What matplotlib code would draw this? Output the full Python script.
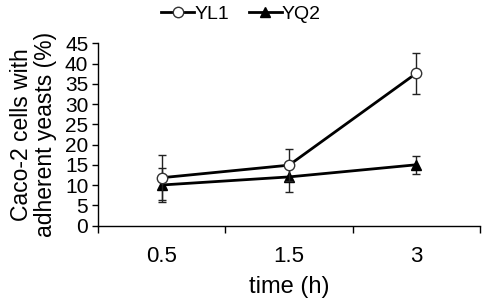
import matplotlib
matplotlib.use("Agg")
import matplotlib.pyplot as plt
from matplotlib.lines import Line2D
import numpy as np

plt.rcParams['font.family'] = ['Liberation Sans', 'DejaVu Sans']

categories = ["0.5", "1.5", "3"]
yl1 = [11.8, 14.9, 37.6]
yl1_err = [5.6, 4.0, 5.1]
yq2 = [10.0, 12.0, 15.0]
yq2_err = [4.3, 3.7, 2.2]

fig = plt.figure(figsize=(4.82, 2.99), dpi=100)
ax = fig.add_axes([98/482, 1-225.5/299, 382/482, (225.5-43.3)/299])

x = np.arange(len(categories)) + 0.5
ax.errorbar(x, yl1, yerr=yl1_err, color='black', lw=2.0, marker='o', ms=7.5,
            mfc='white', mec='#333333', mew=1.0, capsize=3, elinewidth=1.0,
            ecolor='#222222', capthick=1.0, zorder=3)
ax.errorbar(x, yq2, yerr=yq2_err, color='black', lw=2.0, marker='^', ms=7.5,
            mfc='black', mec='black', capsize=3, elinewidth=1.0,
            ecolor='#222222', capthick=1.0, zorder=2)

ax.set_xlim(0, 3)
ax.set_ylim(0, 45)
ax.set_yticks(np.arange(0, 46, 5))
ax.set_xticks([0, 1, 2, 3])
ax.set_xticklabels([])
ax.set_xticks(x, minor=True)
ax.set_xticklabels(categories, minor=True)
ax.tick_params(axis='x', which='major', direction='out', length=5, width=1)
ax.tick_params(axis='x', which='minor', length=0, labelsize=16, pad=15)
ax.tick_params(axis='y', direction='out', length=4, width=1, labelsize=15, pad=3)
for s in ['top', 'right']:
    ax.spines[s].set_visible(False)
for s in ['left', 'bottom']:
    ax.spines[s].set_linewidth(1.0)

ax.set_xlabel('time (h)', fontsize=17, labelpad=6)
ax.set_ylabel('Caco-2 cells with\nadherent yeasts (%)', fontsize=16.5, labelpad=6, linespacing=1.05)

handles = [
    Line2D([], [], color='black', lw=2.0, marker='o', ms=7.5, mfc='white', mec='#333333', mew=1.0),
    Line2D([], [], color='black', lw=2.0, marker='^', ms=7.5, mfc='black', mec='black'),
]
fig.legend(handles, ['YL1', 'YQ2'], loc='upper center', bbox_to_anchor=(0.5, 1.04), ncol=2,
           frameon=False, fontsize=14, handlelength=1.7, handletextpad=0.0,
           columnspacing=1.0)

fig.savefig('out.png', dpi=100)
